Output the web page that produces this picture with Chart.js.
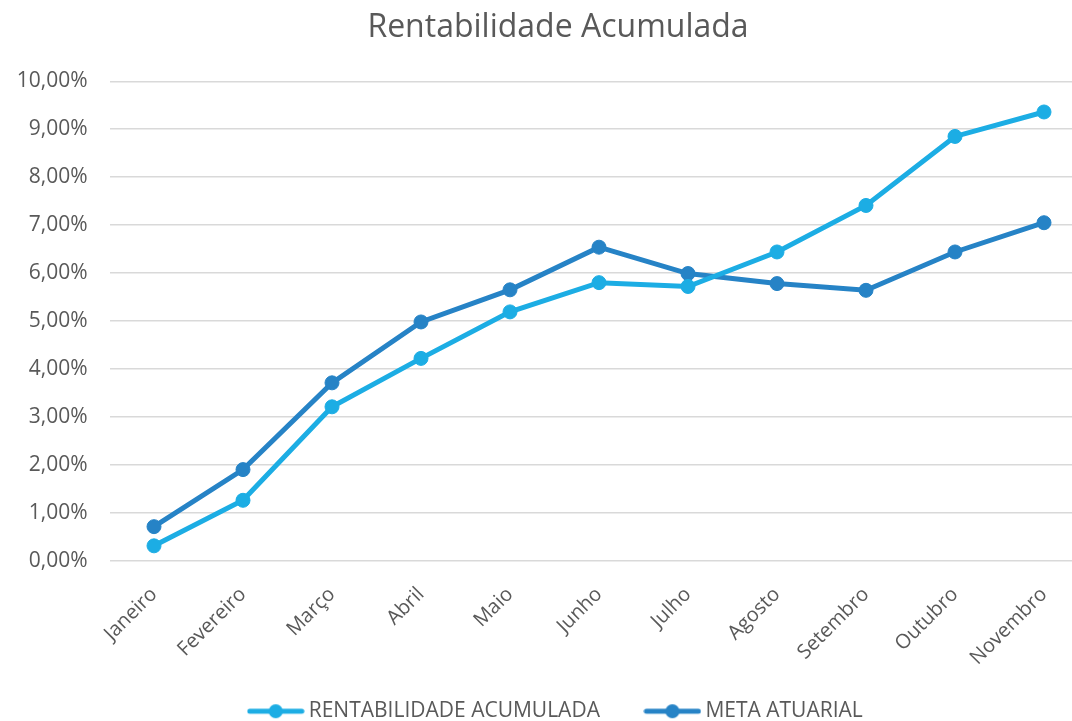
<!DOCTYPE html>
<html>
<head>
<meta charset="utf-8">
<script src="https://cdn.jsdelivr.net/npm/chart.js@4"></script>
<style>
  html, body { margin: 0; padding: 0; background: #fff; overflow: hidden; }
  #wrap { position: absolute; left: 0; top: 0; width: 1116px; height: 740px; }
</style>
</head>
<body>
<div id="wrap"><canvas id="c" width="1116" height="740"></canvas></div>
<script>
const categories = ['Janeiro','Fevereiro','Março','Abril','Maio','Junho','Julho','Agosto','Setembro','Outubro','Novembro'];
const rentabilidade = [0.31, 1.26, 3.21, 4.22, 5.19, 5.80, 5.72, 6.44, 7.41, 8.85, 9.36];
const metaAtuarial = [0.71, 1.90, 3.71, 4.98, 5.65, 6.54, 5.99, 5.78, 5.64, 6.44, 7.05];
const seriesNames = ['RENTABILIDADE ACUMULADA', 'META ATUARIAL'];
const chartTitle = 'Rentabilidade Acumulada';

const colLight = '#1CADE4';
const colDark = '#2683C6';
const textCol = '#595959';
const FONT = '"Open Sans", sans-serif';

function legendIcon(color) {
  const c = document.createElement('canvas');
  c.width = 58; c.height = 16;
  const g = c.getContext('2d');
  g.strokeStyle = color; g.lineWidth = 5; g.lineCap = 'round';
  g.beginPath(); g.moveTo(3, 8); g.lineTo(55, 8); g.stroke();
  g.fillStyle = color;
  g.beginPath(); g.arc(29, 8, 7, 0, Math.PI * 2); g.fill();
  return c;
}
const icons = [legendIcon(colLight), legendIcon(colDark)];

new Chart(document.getElementById('c'), {
  type: 'line',
  data: {
    labels: categories,
    datasets: [
      { label: seriesNames[0], data: rentabilidade, borderColor: colLight, backgroundColor: colLight,
        pointBackgroundColor: colLight, pointBorderColor: colLight, borderWidth: 5,
        pointRadius: 7, pointBorderWidth: 1, tension: 0, yAxisID: 'y' },
      { label: seriesNames[1], data: metaAtuarial, borderColor: colDark, backgroundColor: colDark,
        pointBackgroundColor: colDark, pointBorderColor: colDark, borderWidth: 5,
        pointRadius: 7, pointBorderWidth: 1, tension: 0, yAxisID: 'y' }
    ]
  },
  options: {
    responsive: false,
    animation: false,
    layout: { padding: { left: 0, right: 0, top: 0, bottom: 8.3 } },
    plugins: {
      title: {
        display: true, text: chartTitle, color: textCol,
        font: { family: FONT, size: 32, weight: 'normal' },
        padding: { top: 8.3, bottom: 34.6 }
      },
      legend: {
        position: 'bottom',
        labels: {
          color: textCol, font: { family: FONT, size: 21 },
          usePointStyle: true, pointStyleWidth: 45, padding: 50,
          generateLabels(chart) {
            return chart.data.datasets.map((ds, i) => ({
              text: ds.label, pointStyle: icons[i], fillStyle: ds.borderColor,
              strokeStyle: ds.borderColor, lineWidth: 0, hidden: false, datasetIndex: i, fontColor: textCol
            }));
          }
        }
      },
      tooltip: { enabled: false }
    },
    scales: {
      x: {
        offset: true,
        grid: { display: false, drawTicks: false },
        border: { display: false },
        ticks: { color: textCol, font: { family: FONT, size: 20 }, maxRotation: 45, minRotation: 45, autoSkip: false, padding: 22 },
        afterFit(scale) { scale.height = 90; scale._computeLabelArea = () => undefined; }
      },
      y: {
        min: 0, max: 10,
        grid: { color: '#D9D9D9', lineWidth: 1.5, drawTicks: false },
        border: { display: false },
        ticks: { stepSize: 1, color: textCol, font: { family: FONT, size: 21 }, padding: 22,
          callback: (v) => v.toFixed(2).replace('.', ',') + '%' },
        afterFit(scale) { scale.width = 109.5; }
      },
      yRight: {
        type: 'linear', position: 'right', display: true,
        grid: { display: false, drawTicks: false },
        border: { display: false },
        ticks: { display: false },
        afterFit(scale) { scale.width = 27.5; }
      }
    }
  }
});
</script>
</body>
</html>
